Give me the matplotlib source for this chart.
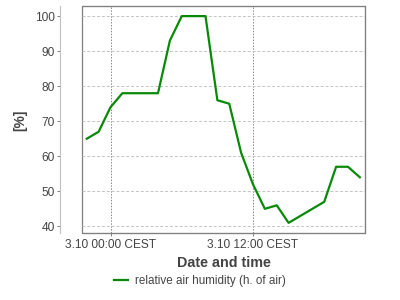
import matplotlib
matplotlib.use('Agg')
import matplotlib.pyplot as plt
import matplotlib.dates as mdates
from matplotlib.patches import Rectangle
from matplotlib.ticker import FuncFormatter
import pandas as pd

# hourly readings, 2 Oct 22:00 -> 3 Oct 21:00 (CEST)
times = ['2021-10-02 22:00', '2021-10-02 23:00', '2021-10-03 00:00', '2021-10-03 01:00',
         '2021-10-03 02:00', '2021-10-03 03:00', '2021-10-03 04:00', '2021-10-03 05:00',
         '2021-10-03 06:00', '2021-10-03 07:00', '2021-10-03 08:00', '2021-10-03 09:00',
         '2021-10-03 10:00', '2021-10-03 11:00', '2021-10-03 12:00', '2021-10-03 13:00',
         '2021-10-03 14:00', '2021-10-03 15:00', '2021-10-03 16:00', '2021-10-03 17:00',
         '2021-10-03 18:00', '2021-10-03 19:00', '2021-10-03 20:00', '2021-10-03 21:00']
humidity = [65, 67, 74, 78, 78, 78, 78, 93, 100, 100, 100, 76,
            75, 61, 52, 45, 46, 41, 43, 45, 47, 57, 57, 54]
yticks = [40, 50, 60, 70, 80, 90, 100]
series_label = 'relative air humidity (h. of air)'
xlabel = 'Date and time'
ylabel = '[%]'

plt.rcParams['font.family'] = ['Liberation Sans', 'DejaVu Sans']

t = pd.to_datetime(times)

fig = plt.figure(figsize=(4, 3), dpi=100)
ax = fig.add_axes([0.206, 0.2233, 0.7065, 0.7557])

ax.plot(t, humidity, color='#088a08', lw=1.6, label=series_label)

ax.set_xlim(t[0] - pd.Timedelta(minutes=22), t[-1] + pd.Timedelta(minutes=26))
ax.set_ylim(38.1, 102.8)

ax.xaxis.set_major_locator(mdates.HourLocator(byhour=[0, 12]))
ax.xaxis.set_major_formatter(FuncFormatter(
    lambda v, pos: '{d.day}.{d.month} {d:%H:%M} CEST'.format(d=mdates.num2date(v))))
ax.set_yticks(yticks)

ax.grid(axis='y', color='#c4c4c4', lw=0.7, ls=(0, (3, 2)))
ax.grid(axis='x', color='#888888', lw=0.7, ls=(0, (1.5, 1.5)))

for s in ['top', 'right', 'bottom']:
    ax.spines[s].set_color('#808080')
ax.spines['left'].set_position(('outward', 16))
ax.spines['left'].set_color('#c0c0c0')
ax.add_patch(Rectangle((0, 0), 1, 1, transform=ax.transAxes, fill=False,
                       ec='#808080', lw=0.9, clip_on=False))

ax.tick_params(axis='both', labelsize=8.6, colors='#808080', labelcolor='#444444',
               length=2, width=0.7, pad=2)

fig.text(0.5588, 1 - 263 / 300, xlabel, ha='center', va='center',
         fontsize=10.3, fontweight='bold', color='#444444')
fig.text(0.05, 1 - 120 / 300, ylabel, ha='center', va='center', rotation=90,
         fontsize=10, fontweight='bold', color='#444444')

fig.legend(loc='center', bbox_to_anchor=(0.5, 1 - 281 / 300), frameon=False,
           fontsize=8.4, handlelength=1.2, handletextpad=0.6,
           labelcolor='#444444')

fig.savefig('out.png', dpi=100)
